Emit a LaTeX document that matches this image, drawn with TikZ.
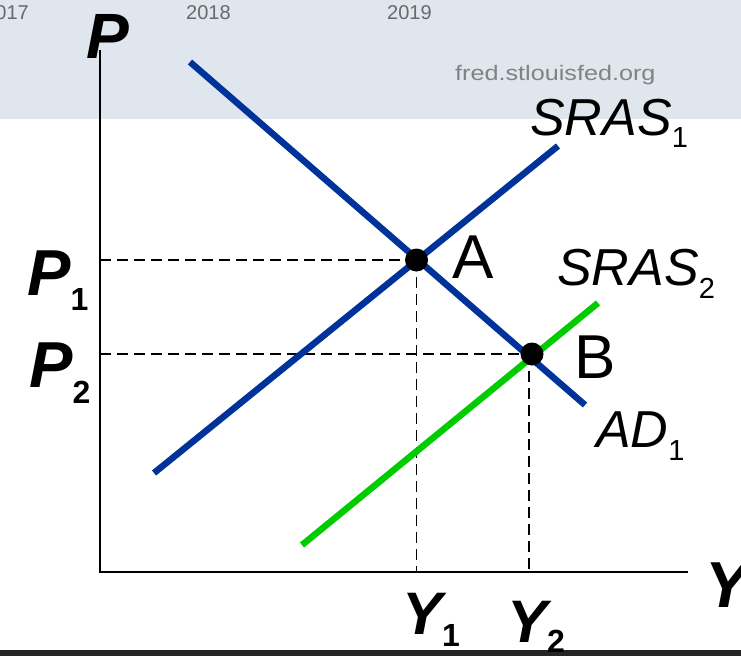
\documentclass[tikz,border=0pt]{standalone}
\usepackage{fontspec}
\setmainfont{Liberation Sans}
\usepackage{graphicx}
\definecolor{bandcol}{RGB}{223,230,238}
\definecolor{adblue}{RGB}{0,51,153}
\definecolor{srasgreen}{RGB}{0,204,0}
\definecolor{barcol}{RGB}{37,37,37}
\definecolor{yeargray}{RGB}{105,105,105}
\definecolor{webgray}{RGB}{130,130,130}
\newcommand{\fsz}[1]{\fontsize{#1}{#1}\selectfont}
\begin{document}
\begin{tikzpicture}[x=1pt,y=-1pt,
  curve/.style={line width=6.5pt,line cap=butt},
  axisline/.style={line width=2.4pt,line join=miter},
  guide/.style={line width=1.5pt,dash pattern=on 11pt off 6pt},
  dot/.style={circle,fill=black,inner sep=0pt,minimum size=23pt},
  lbl/.style={inner sep=0pt,anchor=base west},
  yearlbl/.style={lbl,text=yeargray,font=\fsz{20}},
]
\useasboundingbox (0,0) rectangle (741,656);
% background bands
\fill[bandcol] (0,0) rectangle (741,119);
\fill[barcol] (0,650) rectangle (741,656);
% top texts
\node[inner sep=0pt,anchor=base east,text=yeargray,font=\fsz{20}] (y17) at (29,19) {017};
\node[yearlbl] (y18) at (186,19) {2018};
\node[yearlbl] (y19) at (387,19) {2019};
\node[lbl,text=webgray] (fred) at (455,80.5) {\scalebox{1.2}[1]{\fsz{21}fred.stlouisfed.org}};
% coordinates
\coordinate (ytop) at (100,50);
\coordinate (orig) at (100,572);
\coordinate (xend) at (688,572);
\coordinate (ad0) at (190,62);
\coordinate (ad1) at (585,405);
\coordinate (s10) at (154,473);
\coordinate (s11) at (558,146);
\coordinate (s20) at (302,545);
\coordinate (s21) at (598,303);
\coordinate (pA) at (100,260);
\coordinate (pB) at (100,354);
\coordinate (yA) at (416.5,572);
\coordinate (yB) at (529,572);
\coordinate (bv) at (529,354);
\coordinate (Ac) at (416.5,260);
\coordinate (Bc) at (532,354);
% axes
\draw[axisline] (ytop) -- (orig) -- (xend);
% guides
\draw[guide] (pA) -- (Ac);
\draw[guide] (pB) -- (Bc);
\draw[guide] (Ac) -- (yA);
\draw[guide] (bv) -- (yB);
% curves
\draw[curve,adblue] (ad0) -- (ad1);
\draw[curve,adblue] (s10) -- (s11);
\draw[curve,srasgreen] (s20) -- (s21);
% dots
\node[dot] (A) at (Ac) {};
\node[dot] (B) at (Bc) {};
% labels
\node[lbl,font=\fsz{64}\bfseries\itshape] (P) at (86,58) {P};
\node[lbl,font=\fsz{65}\bfseries\itshape] (P1) at (27,295) {P\raisebox{-15pt}{\fsz{32}\upshape 1}};
\node[lbl,font=\fsz{65}\bfseries\itshape] (P2) at (29,387) {P\raisebox{-16pt}{\fsz{32}\upshape 2}};
\node[lbl,font=\fsz{65}\bfseries\itshape] (Y) at (705,607) {Y};
\node[lbl,font=\fsz{60}\bfseries\itshape] (Y1) at (402,634) {Y\raisebox{-12pt}{\fsz{32}\upshape 1}};
\node[lbl,font=\fsz{60}\bfseries\itshape] (Y2) at (507,642) {Y\raisebox{-10pt}{\fsz{32}\upshape 2}};
\node[lbl,font=\fsz{62}] (Alab) at (452,278) {A};
\node[lbl,font=\fsz{62}] (Blab) at (574,378) {B};
\node[lbl,font=\fsz{52}\itshape] (sras1) at (530,135) {SRAS\raisebox{-12pt}{\fsz{29}\upshape 1}};
\node[lbl,font=\fsz{52}\itshape] (sras2) at (557,285) {SRAS\raisebox{-13pt}{\fsz{29}\upshape 2}};
\node[lbl,font=\fsz{52}\itshape] (ad) at (596,447) {AD\raisebox{-13pt}{\fsz{29}\upshape 1}};
\end{tikzpicture}
\end{document}
